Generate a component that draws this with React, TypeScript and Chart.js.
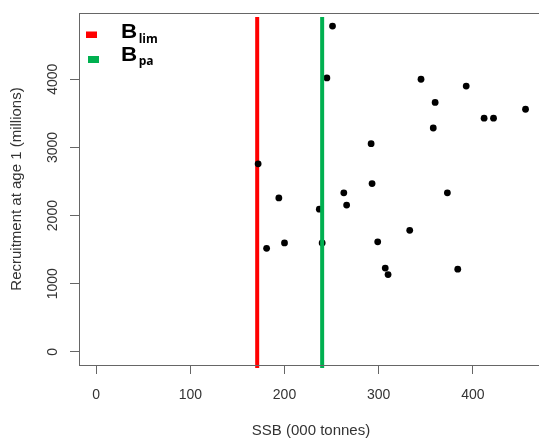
import React, { useEffect, useRef } from 'react';
import { Chart, registerables } from 'chart.js';

Chart.register(...registerables);

// SSB (000 tonnes) and recruitment at age 1 (millions)
const ssb = [251, 245, 345, 393, 360, 456, 412, 422, 358, 292, 172, 293, 194, 263, 373, 266, 237, 181, 200, 240, 299, 333, 307, 310, 384];
const recruits = [4780, 4020, 4000, 3900, 3660, 3560, 3430, 3430, 3285, 3055, 2760, 2470, 2260, 2335, 2335, 2155, 2095, 1520, 1600, 1600, 1615, 1785, 1230, 1135, 1215];

const xTickValues = [0, 100, 200, 300, 400];
const yTickValues = [0, 1000, 2000, 3000, 4000];

const blim = 171;
const bpa = 240;
const refLineSpan = [-235, 4913];

const xRange = [-18.25, 474.55];
const yRange = [-191, 4972];

const FONT = '"Liberation Sans", Arial, sans-serif';

function segment(ctx: CanvasRenderingContext2D, x1: number, y1: number, x2: number, y2: number) {
  ctx.beginPath();
  ctx.moveTo(x1, y1);
  ctx.lineTo(x2, y2);
  ctx.stroke();
}

const decorPlugin = {
  id: 'decor',
  afterDraw(chart: any) {
    const { ctx, chartArea: a } = chart;
    ctx.save();
    // plot box (left, top, bottom; the right side lies outside the picture)
    ctx.strokeStyle = '#666';
    ctx.lineWidth = 1;
    const L = Math.round(a.left) + 0.5;
    const T = Math.round(a.top) + 0.5;
    const B = Math.round(a.bottom) + 0.5;
    const R = chart.width;
    segment(ctx, L - 0.5, T, R, T);
    segment(ctx, L, T, L, B);
    segment(ctx, L - 0.5, B, R, B);
    // rotated y tick labels
    const ys = chart.scales.y;
    ctx.fillStyle = '#333';
    ctx.font = `14px ${FONT}`;
    ctx.textAlign = 'center';
    ctx.textBaseline = 'middle';
    for (const t of ys.ticks) {
      const py = ys.getPixelForValue(t.value);
      ctx.save();
      ctx.translate(53.5, py);
      ctx.rotate(-Math.PI / 2);
      ctx.fillText(String(t.value), 0, 0);
      ctx.restore();
    }
    // legend
    ctx.fillStyle = '#ff0000';
    ctx.fillRect(86, 31.5, 11, 6.5);
    ctx.fillStyle = '#00b050';
    ctx.fillRect(88, 56, 11, 7);
    ctx.fillStyle = '#000';
    ctx.textAlign = 'left';
    ctx.textBaseline = 'alphabetic';
    const entries = [
      { main: 'B', sub: 'lim', y: 37.5, sy: 43 },
      { main: 'B', sub: 'pa', y: 60.7, sy: 64.8 },
    ];
    for (const e of entries) {
      ctx.save();
      ctx.font = `bold 20px "Liberation Sans", Arial, sans-serif`;
      ctx.translate(121, e.y);
      ctx.scale(1.12, 1);
      ctx.fillText(e.main, 0, 0);
      const w = ctx.measureText(e.main).width * 1.12;
      ctx.restore();
      ctx.font = `bold 12px "Open Sans", sans-serif`;
      ctx.fillText(e.sub, 121 + w + 1.5, e.sy);
    }
    ctx.restore();
  },
};

export default function App() {
  const ref = useRef<HTMLCanvasElement | null>(null);

  useEffect(() => {
    if (!ref.current) return;
    const chart = new Chart(ref.current, {
      type: 'scatter',
      data: {
        datasets: [
          {
            label: 'Bpa',
            data: refLineSpan.map((y) => ({ x: bpa, y })),
            showLine: true,
            borderColor: '#00b050',
            borderWidth: 4,
            pointRadius: 0,
            clip: 5 as any,
            order: 0,
          },
          {
            label: 'Stock-recruit',
            data: ssb.map((x, i) => ({ x, y: recruits[i] })),
            backgroundColor: '#000',
            borderWidth: 0,
            pointRadius: 3.4,
            order: 1,
          },
          {
            label: 'Blim',
            data: refLineSpan.map((y) => ({ x: blim, y })),
            showLine: true,
            borderColor: '#ff0000',
            borderWidth: 4,
            pointRadius: 0,
            clip: 5 as any,
            order: 2,
          },
        ],
      },
      options: {
        responsive: false,
        animation: false,
        layout: { padding: { top: 13, right: 5, bottom: 0, left: 0 } },
        plugins: { legend: { display: false }, tooltip: { enabled: false } },
        scales: {
          x: {
            type: 'linear',
            min: xRange[0],
            max: xRange[1],
            afterBuildTicks: (s: any) => {
              s.ticks = xTickValues.map((v) => ({ value: v }));
            },
            afterFit: (s: any) => {
              s.height = 74;
            },
            grid: { drawOnChartArea: false, drawTicks: true, tickLength: 9, color: '#666' },
            border: { display: false },
            ticks: { color: '#333', font: { family: FONT, size: 14 }, padding: 13, maxRotation: 0, autoSkip: false },
            title: {
              display: true,
              text: 'SSB (000 tonnes)',
              color: '#333',
              font: { family: FONT, size: 15, lineHeight: '16px' },
              padding: { top: 0, bottom: 0 },
            },
          },
          y: {
            type: 'linear',
            min: yRange[0],
            max: yRange[1],
            afterBuildTicks: (s: any) => {
              s.ticks = yTickValues.map((v) => ({ value: v }));
            },
            afterFit: (s: any) => {
              s.width = 79;
            },
            grid: { drawOnChartArea: false, drawTicks: true, tickLength: 9, color: '#666' },
            border: { display: false },
            ticks: { display: false },
            title: {
              display: true,
              text: 'Recruitment at age 1 (millions)',
              color: '#333',
              font: { family: FONT, size: 15, lineHeight: '16px' },
              padding: { top: 9, bottom: 0 },
            },
          },
        },
      },
      plugins: [decorPlugin],
    });
    return () => chart.destroy();
  }, []);

  return (
    <div style={{ position: 'fixed', left: 0, top: 0, width: 539, height: 439, overflow: 'hidden', background: '#fff' }}>
      <canvas ref={ref} width={548} height={439} style={{ display: 'block', width: 548, height: 439 }} />
    </div>
  );
}
